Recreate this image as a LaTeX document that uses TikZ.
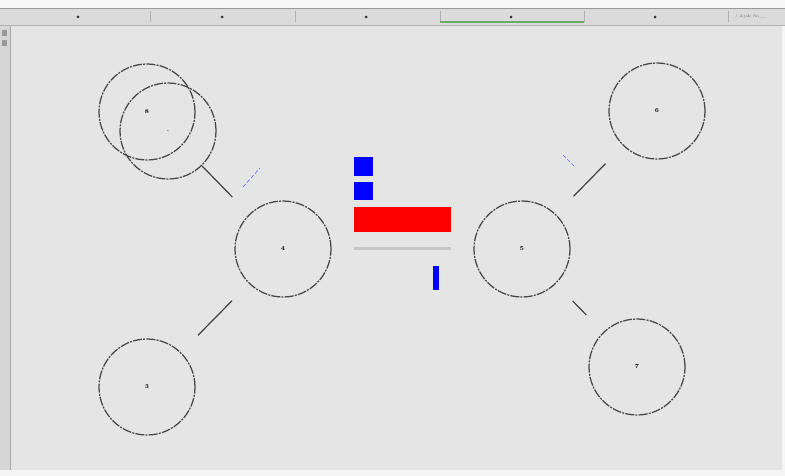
\documentclass[tikz,border=0pt]{standalone}
\begin{document}
\begin{tikzpicture}[x=1pt,y=-1pt,
  ring/.style={circle,draw=black!72,line width=1.25pt,minimum size=96pt,inner sep=0pt,
    dash pattern=on 9pt off 1.2pt on 2pt off 1.2pt,
    font=\fontsize{6}{7}\selectfont\bfseries},
  link/.style={draw=black!75,line width=1.2pt},
  mark2/.style={draw=blue!60,line width=0.6pt,dash pattern=on 4pt off 2pt},
  tabsep/.style={draw=black!30,line width=0.6pt},
  tabdot/.style={circle,fill=black!80,inner sep=0pt,minimum size=3pt}]
\useasboundingbox (0,0) rectangle (785,476);
% window background
\fill[white!96!black] (0,0) rectangle (785,476);
\fill[black!10] (10,26) rectangle (782,470);
% top strip
\fill[black!3] (0,0) rectangle (785,9);
\draw[black!40,line width=0.8pt] (0,8) -- (785,8);
\fill[black!14] (0,9) rectangle (785,25);
\draw[black!30] (0,25) -- (785,25);
\foreach \x in {150,295,440,584,728} \draw[tabsep] (\x,11) -- (\x,22);
\foreach \x in {78,222,366,511,655} \node[tabdot] at (\x,17) {};
\draw[green!45!black!60,line width=1.2pt] (440,22) -- (584,22);
\node[font=\fontsize{4}{5}\selectfont,text=black!60,anchor=west,inner sep=0pt] at (735,17) {/ 2;p\& Sn\_\_};
% left strip
\fill[black!16] (0,26) rectangle (10,470);
\draw[black!35] (10,26) -- (10,470);
\fill[black!40] (2,30) rectangle (7,36);
\fill[black!40] (2,40) rectangle (7,46);
% circles
\node[ring] (n8) at (147,112) {8};
\node[ring] (n9) at (168,131) {.};
\node[ring] (n4) at (283,249) {4};
\node[ring] (n3) at (147,387) {3};
\node[ring] (n5) at (522,249) {5};
\node[ring] (n6) at (657,111) {6};
\node[ring] (n7) at (637,367) {7};
% connectors
\draw[link,shorten >=24pt] (n9) -- (n4);
\draw[link,shorten <=24pt,shorten >=24pt] (n3) -- (n4);
\draw[link,shorten <=25pt,shorten >=25pt] (n5) -- (n6);
\draw[link,shorten <=24pt,shorten >=24pt] (n5) -- (n7);
% small blue marks
\coordinate (m1a) at (243,187);
\coordinate (m1b) at (260,168);
\coordinate (m2a) at (563,155);
\coordinate (m2b) at (576,168);
\draw[mark2] (m1a) -- (m1b);
\draw[mark2] (m2a) -- (m2b);
% centre bars
\fill[blue] (354,157) rectangle (373,176);
\fill[blue] (354,182) rectangle (373,200);
\fill[red] (354,207) rectangle (451,232);
\fill[black!22] (354,247) rectangle (451,250);
\fill[blue] (433,266) rectangle (439,290);
\end{tikzpicture}
\end{document}
